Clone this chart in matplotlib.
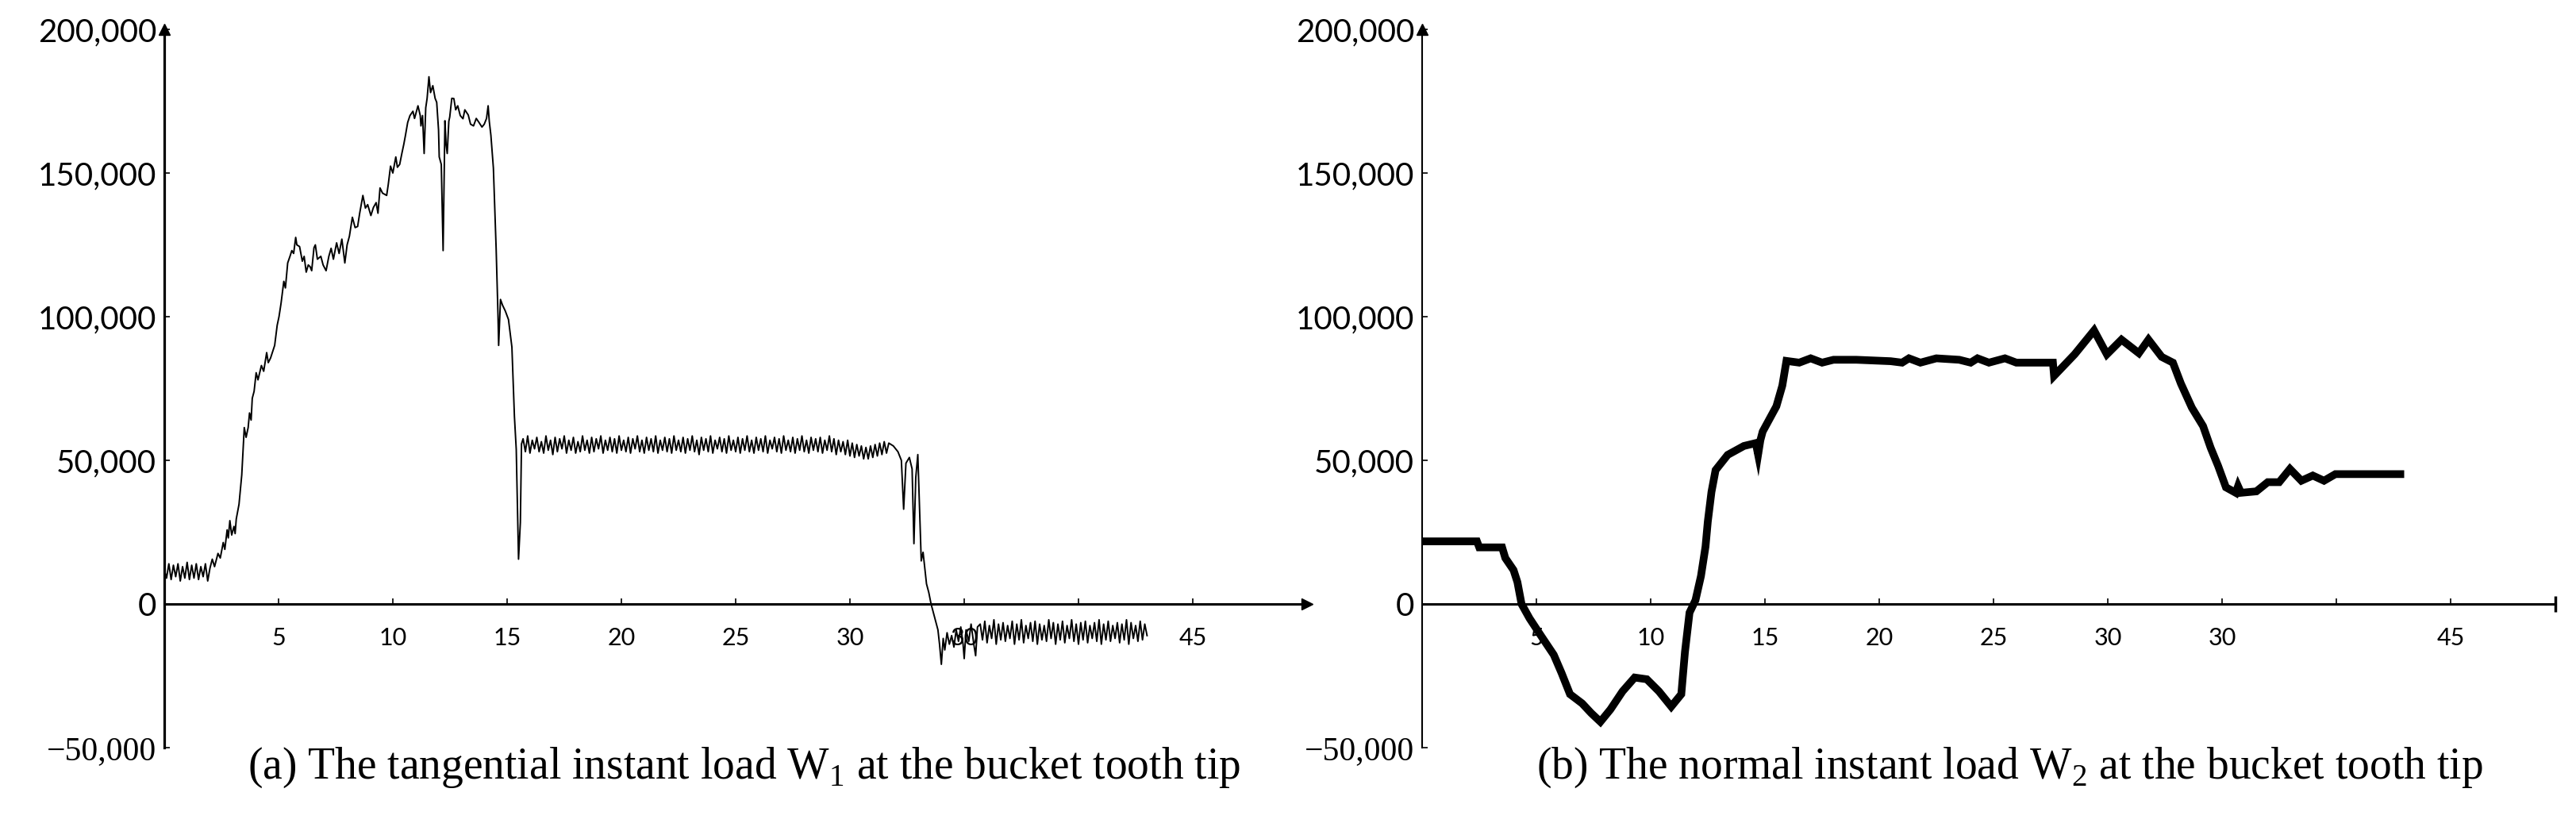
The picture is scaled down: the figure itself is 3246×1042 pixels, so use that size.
import numpy as np
import matplotlib
matplotlib.use("Agg")
from matplotlib import pyplot as plt

# ---- data (time in s, load in N) ----

# W1: tangential load, idle part before digging (sampled every 0.1 s)
w1_idle = [12000, 9000, 14000, 8500, 13500, 9500, 14000, 8000, 13000, 9000, 14500,
           8500, 13500, 9000, 14000, 8500, 13000, 9500, 14000, 8000, 12500]

# W1: digging part
w1_dig_t = [2.1, 2.2, 2.35, 2.45, 2.58, 2.65, 2.75, 2.8, 2.87, 2.95, 3.05, 3.1, 3.15, 3.27,
            3.39, 3.5, 3.58, 3.67, 3.73, 3.8, 3.85, 3.93, 4.02, 4.1, 4.25, 4.35, 4.48, 4.55,
            4.65, 4.75, 4.83, 4.94, 5.02, 5.11, 5.23, 5.3, 5.4, 5.5, 5.58, 5.66, 5.75, 5.8,
            5.92, 6.04, 6.12, 6.21, 6.3, 6.38, 6.45, 6.55, 6.61, 6.7, 6.85, 6.95, 7.08, 7.2,
            7.3, 7.4, 7.54, 7.65, 7.77, 7.9, 8.0, 8.1, 8.23, 8.35, 8.46, 8.55, 8.69, 8.8,
            8.9, 9.04, 9.15, 9.27, 9.35, 9.44, 9.55, 9.73, 9.8, 9.9, 10.0, 10.13, 10.2, 10.3,
            10.4, 10.48, 10.55, 10.65, 10.75, 10.88, 10.95, 11.1, 11.2, 11.23, 11.3, 11.37,
            11.44, 11.5, 11.58, 11.65, 11.75, 11.85, 11.92, 12.0, 12.03, 12.12, 12.2, 12.28,
            12.33, 12.38, 12.45, 12.49, 12.58, 12.67, 12.75, 12.84, 12.95, 13.07, 13.15, 13.3,
            13.4, 13.53, 13.65, 13.77, 13.9, 14.0, 14.1, 14.17, 14.22, 14.29, 14.4, 14.52,
            14.6, 14.63, 14.71, 14.8, 14.92, 15.06, 15.21, 15.32, 15.4, 15.5, 15.58, 15.63]
w1_dig = [15600, 13000, 17600, 16000, 21400, 19000, 25800, 23000, 29000, 24000, 27000, 24500,
          29600, 34700, 44900, 61400, 58000, 61400, 66500, 64000, 71600, 74000, 80500, 78000,
          83000, 81000, 87500, 84000, 85600, 88000, 90000, 97000, 100000, 104700, 112300,
          110000, 118700, 121000, 123000, 122000, 127600, 125000, 124400, 119300, 121000,
          115500, 118000, 117400, 116000, 124000, 125000, 120000, 121000, 118000, 116000,
          121000, 123800, 120000, 125700, 122000, 127000, 118700, 125000, 128000, 134600,
          131000, 131400, 136000, 142200, 137800, 139000, 135200, 138000, 139700, 136000,
          144800, 143000, 142200, 146000, 152400, 150000, 155600, 152000, 153000, 157000,
          160000, 163000, 167600, 170000, 171500, 169000, 173400, 170000, 166400, 170000,
          156800, 172700, 176000, 183500, 178000, 180400, 176000, 174600, 165000, 155600,
          153000, 123000, 168200, 160000, 156800, 168000, 169500, 176000, 175900, 172000,
          173400, 170000, 168900, 172000, 170200, 167000, 166400, 169000, 167600, 166000,
          167000, 169000, 173400, 168000, 163200, 151700, 123800, 100900, 90000, 106000,
          104000, 102000, 99000, 89400, 65300, 53800, 15600, 28400, 55700]

# W1: hauling plateau (sampled every 0.1 s from 15.7 s)
w1_haul = [57500, 53000, 58500, 52500, 57000, 54000, 58000, 53000, 56500, 52500,
           58500, 53500, 57000, 52000, 58000, 53000, 57500, 54000, 58500, 52500,
           57000, 53500, 58000, 52500, 56500, 53000, 58500, 53500, 57000, 52500,
           58000, 53000, 57500, 54000, 58500, 52500, 57000, 53500, 58000, 53000,
           57500, 52500, 58500, 53500, 57000, 53000, 58000, 52500, 57500, 54000,
           58500, 53000, 57000, 52500, 58000, 53500, 57500, 53000, 58500, 52500,
           57000, 53500, 58000, 53000, 57500, 52500, 58500, 53500, 57000, 53000,
           58000, 52500, 57500, 53500, 58500, 53000, 57000, 52000, 58000, 53500,
           57500, 53000, 58500, 52500, 57000, 54000, 58000, 53000, 57500, 52500,
           58500, 53500, 57000, 53000, 58000, 52500, 57500, 53500, 58500, 53000,
           57000, 52500, 58000, 53500, 57500, 53000, 58500, 52500, 57000, 54000,
           58000, 53000, 57500, 52500, 58500, 53500, 57000, 53000, 58000, 52500,
           57500, 53500, 58500, 53000, 57000, 52500, 58000, 53500, 57500, 53000,
           58000, 52500, 57000, 53500, 58500, 53000, 57500, 52000, 57000, 53000,
           56500, 52000, 57000, 51500, 56000, 51000, 55500, 51500, 55000, 50500,
           54500, 50500, 55000, 51000, 55500, 51500, 56000, 52000, 56500, 52500,
           56000]

# W1: unloading
w1_dump_t = [31.9, 32.1, 32.25, 32.35, 32.45, 32.6, 32.72, 32.8, 32.88, 32.97, 33.05, 33.12,
             33.2, 33.28, 33.35, 33.45, 33.55, 33.65, 33.75, 33.85, 33.92, 34.0, 34.08, 34.15,
             34.25, 34.35, 34.45, 34.55, 34.65, 34.75, 34.85, 34.95, 35.0, 35.08, 35.2, 35.3,
             35.42, 35.5, 35.58]
w1_dump = [55000, 53000, 50000, 33000, 49000, 51000, 47000, 21000, 44000, 52000, 32000, 15000,
           18000, 12000, 7000, 4000, 0, -3000, -6000, -9000, -14000, -21000, -12000, -16000,
           -10000, -14000, -11000, -15000, -9000, -13000, -8000, -14000, -19000, -9000, -13000,
           -7000, -14000, -18000, -8000]

# W1: empty return (sampled every 0.1 s from 35.7 s)
w1_return = [-7000, -12500, -6000, -13500, -7500, -12000, -5500, -14000, -7000, -12500,
             -6500, -13000, -7500, -12000, -6000, -14000, -7000, -12500, -5500, -13500,
             -7500, -12000, -6500, -13000, -6000, -14000, -7000, -12500, -7500, -13000,
             -5500, -12000, -6500, -14000, -7000, -12500, -6000, -13500, -7500, -12000,
             -5500, -13000, -7000, -14000, -6500, -12500, -6000, -13500, -7500, -12000,
             -6500, -13000, -5500, -14000, -7000, -12500, -6000, -13000, -7500, -12000,
             -6500, -13500, -7000, -12500, -5500, -14000, -6500, -12000, -7500, -13000,
             -6000, -12500, -7000, -11000]

# W2: normal load
w2_t = [0.0, 2.4, 2.5, 3.5, 3.64, 4.0, 4.17, 4.35, 4.7, 5.23, 5.76, 6.1, 6.47, 7.0, 7.4, 7.8,
        8.24, 8.77, 9.3, 9.83, 10.36, 10.9, 11.34, 11.5, 11.7, 11.96, 12.2, 12.4, 12.5, 12.66,
        12.84, 13.37, 14.08, 14.6, 14.7, 14.8, 14.9, 15.5, 15.76, 15.94, 16.5, 17.0, 17.5,
        18.0, 19.0, 20.5, 21.0, 21.3, 21.8, 22.5, 23.5, 24.0, 24.3, 24.8, 25.5, 26.0, 27.6,
        27.65, 28.55, 29.4, 29.96, 30.6, 31.36, 31.78, 32.36, 32.85, 33.2, 33.68, 34.17, 34.5,
        34.83, 35.17, 35.6, 35.7, 35.83, 36.5, 37.0, 37.5, 37.97, 38.47, 38.97, 39.46, 39.96,
        42.8]
w2 = [21800, 21800, 19700, 19700, 16000, 11800, 7600, 0, -5000, -11400, -17700, -24000,
      -31400, -34600, -38000, -41000, -36700, -30400, -25600, -26200, -30400, -35700, -31400,
      -16700, -3000, 1300, 9700, 20000, 28700, 39000, 46600, 51900, 55000, 56000, 52000, 57000,
      60000, 68800, 76000, 84600, 84000, 85500, 84000, 85000, 85000, 84500, 84000, 85500,
      84000, 85500, 85000, 84000, 85500, 84000, 85500, 84000, 84000, 79400, 86900, 95200,
      86900, 92000, 87300, 92000, 86000, 84000, 76700, 68300, 61900, 54400, 48000, 40600,
      38700, 41000, 38700, 39200, 42400, 42400, 47000, 42900, 44700, 42900, 45200, 45200]

y_ticks = [-50000, 0, 50000, 100000, 150000, 200000]
y_labels = ["\u221250,000", "0", "50,000", "100,000", "150,000", "200,000"]
x_ticks = [5, 10, 15, 20, 25, 30, 35, 40, 45]
x_labels = ["5", "10", "15", "20", "25", "30", "30", "", "45"]

captions = ["(a) The tangential instant load W$_\\mathregular{1}$ at the bucket tooth tip",
            "(b) The normal instant load W$_\\mathregular{2}$ at the bucket tooth tip"]

# ---- assemble W1 ----
t_idle = np.linspace(0.0, 2.0, len(w1_idle))
t_haul = np.linspace(15.7, 31.7, len(w1_haul))
t_return = np.linspace(35.7, 43.0, len(w1_return))
t1 = np.concatenate([t_idle, w1_dig_t, t_haul, w1_dump_t, t_return])
w1 = np.concatenate([w1_idle, w1_dig, w1_haul, w1_dump, w1_return])

plt.rcParams["mathtext.fontset"] = "custom"
plt.rcParams["mathtext.rm"] = "Liberation Serif"

W, H = 3246, 1042
fig = plt.figure(figsize=(W / 100, H / 100), dpi=100)

px = 28.8  # pixels per second on both panels
bottom = 1 - 942 / H
height = (942 - 37) / H
ax1 = fig.add_axes([207 / W, bottom, 50 * px / W, height])
ax2 = fig.add_axes([1792 / W, bottom, 49.6 * px / W, height])


def style_axis(ax, xmax, spine_w, yspine_w):
    ax.set_xlim(0, xmax)
    ax.set_ylim(-50000, 200000)
    for s in ["top", "right"]:
        ax.spines[s].set_visible(False)
    ax.spines["bottom"].set_position(("data", 0))
    ax.spines["bottom"].set_linewidth(spine_w)
    ax.spines["left"].set_linewidth(yspine_w)
    ax.set_yticks(y_ticks, y_labels)
    ax.set_xticks(x_ticks, x_labels)
    ax.tick_params(axis="y", direction="in", length=5, width=1.2, pad=7,
                   labelsize=29)
    ax.tick_params(axis="x", direction="in", length=5, width=1.2, pad=21,
                   labelsize=22)
    for lab in ax.get_xticklabels() + ax.get_yticklabels():
        lab.set_fontfamily("Lato")
    neg = ax.get_yticklabels()[0]
    neg.set_fontfamily("Liberation Serif")
    neg.set_fontsize(30)
    # arrow on top of the y axis
    ax.plot(0, 1, "^", color="black", ms=10, transform=ax.get_xaxis_transform(),
            clip_on=False)


style_axis(ax1, 50, 2.2, 2.3)
style_axis(ax2, 49.6, 2.2, 1.5)

ax1.plot(1, 0, ">", color="black", ms=10, transform=ax1.get_yaxis_transform(),
         clip_on=False)
ax2.plot(1, 0, "|", color="black", ms=14, mew=2.5, transform=ax2.get_yaxis_transform(),
         clip_on=False)

ax1.plot(t1, w1, color="black", lw=1.4)
ax2.plot(w2_t, w2, color="black", lw=7, solid_joinstyle="miter")

fig.text(938 / W, 1 - 967 / H, captions[0], ha="center", va="center",
         fontfamily="Liberation Serif", fontsize=40)
fig.text(2532 / W, 1 - 967 / H, captions[1], ha="center", va="center",
         fontfamily="Liberation Serif", fontsize=40)

plt.savefig("out.png", dpi=100)
